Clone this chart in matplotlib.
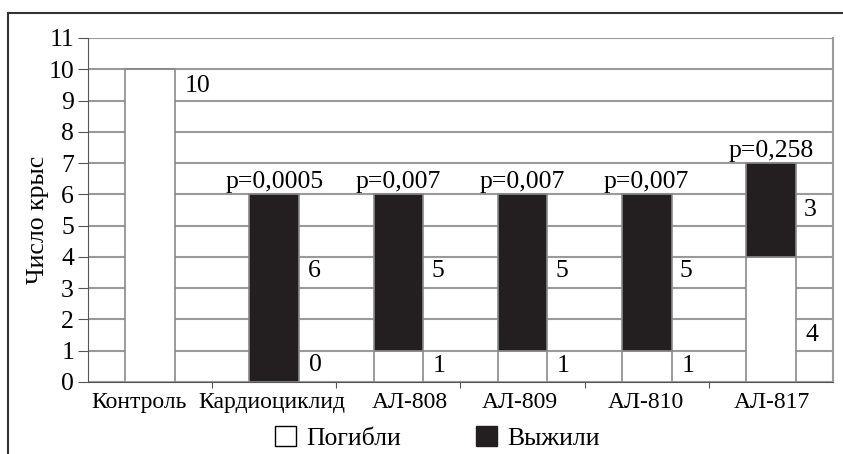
import matplotlib.pyplot as plt
from matplotlib.lines import Line2D
from matplotlib.patches import Patch
import numpy as np

plt.rcParams['font.family'] = ['Liberation Serif', 'DejaVu Serif']

groups = ["Контроль", "Кардиоциклид", "АЛ-808", "АЛ-809", "АЛ-810", "АЛ-817"]
died = [10, 0, 1, 1, 1, 4]        # Погибли
survived = [0, 6, 5, 5, 5, 3]     # Выжили
p_values = ["", "p=0,0005", "p=0,007", "p=0,007", "p=0,007", "p=0,258"]
# where the number labels sit (data units)
died_label_y = [9.45, 0.55, 0.5, 0.5, 0.5, 1.5]
surv_label_y = [None, 3.55, 3.55, 3.55, 3.55, 5.5]
# category labels are nudged apart in the original (pixels)
label_shift = [-11, -2, 11, -3, -1, 1]

grid_c = "#9a9a9a"
edge_c = "#8a8a8a"
black = "#231f20"
fs = 18.5
fs_cat = 17

fig = plt.figure(figsize=(8.43, 4.54), dpi=100)
ax = fig.add_axes([0.1044, 0.1586, 0.8837, 0.7577])

x = np.arange(len(groups))
w = 0.4
ax.bar(x, died, w, color="white", edgecolor=edge_c, linewidth=1.2, zorder=3)
ax.bar(x, survived, w, bottom=died, color=black, edgecolor=edge_c, linewidth=1.2, zorder=3)

for i in range(len(groups)):
    ax.annotate(str(died[i]), (x[i] + w / 2, died_label_y[i]), xytext=(7, 0),
                textcoords="offset points", va="center", ha="left", fontsize=fs)
    if surv_label_y[i] is not None:
        ax.annotate(str(survived[i]), (x[i] + w / 2, surv_label_y[i]), xytext=(6, 0),
                    textcoords="offset points", va="center", ha="left", fontsize=fs)
    if p_values[i]:
        ax.annotate(p_values[i], (x[i], died[i] + survived[i]), xytext=(0, 1),
                    textcoords="offset points", va="bottom", ha="center", fontsize=fs)
    # category name under the axis
    ax.annotate(groups[i], (x[i], 0), xycoords=("data", "axes fraction"),
                xytext=(label_shift[i] * 0.72, -7), textcoords="offset points",
                va="top", ha="center", fontsize=fs_cat)

ax.set_xlim(-0.5, len(groups) - 0.5)
ax.set_ylim(0, 11)
ax.set_yticks(range(0, 12))
ax.set_xticks(np.arange(0.5, len(groups) - 0.5))
ax.set_xticklabels([])
ax.tick_params(axis="x", length=4, color="#555555", direction="out")
ax.tick_params(axis="y", labelsize=fs, length=7, color="#555555", pad=3)

ax.grid(axis="y", color=grid_c, linewidth=1.5)
ax.set_axisbelow(True)
ax.spines["top"].set_visible(False)
ax.spines["right"].set_color(grid_c)
ax.spines["right"].set_linewidth(1.5)
ax.spines["left"].set_color("#555555")
ax.spines["bottom"].set_color("#555555")

ax.set_ylabel("Число крыс", fontsize=fs)
ax.yaxis.set_label_coords(-0.052, 0.47)

handles = [Patch(facecolor="white", edgecolor="black", linewidth=1),
           Patch(facecolor=black, edgecolor=black)]
fig.legend(handles, ["Погибли", "Выжили"], loc="center", bbox_to_anchor=(0.519, 0.035),
           ncol=2, frameon=False, fontsize=fs, handlelength=0.82, handleheight=0.78,
           handletextpad=0.4, columnspacing=2.9)

# outer frame (top and left only)
fig.add_artist(Line2D([0.0095, 1.0], [0.971, 0.971], color="#333333", linewidth=1.5))
fig.add_artist(Line2D([0.0095, 0.0095], [0.0, 0.971], color="#333333", linewidth=1.5))

fig.savefig("out.png", dpi=100)
